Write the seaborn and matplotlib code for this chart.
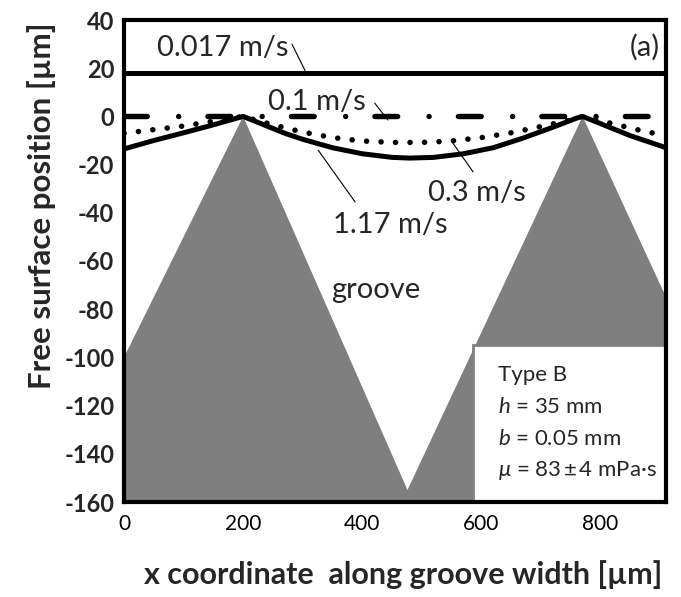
import numpy as np
import pandas as pd
import matplotlib
matplotlib.use("Agg")
import matplotlib.pyplot as plt
import seaborn as sns
from matplotlib.patches import Rectangle, Polygon

# ---------------- data ----------------
x_flat = [0, 910]
y_0017 = [18, 18]          # 0.017 m/s
y_01 = [0, 0]              # 0.1 m/s

x_03 = [0, 50, 100, 150, 200, 250, 300, 350, 400, 450, 500, 550, 600, 650, 700, 750, 770, 820, 870, 910]
y_03 = [-7, -5.5, -4, -2, 0, -3.5, -6.5, -8.8, -10.2, -10.8, -10.8, -10.2, -8.8, -6.8, -4.2, -1.5, 0, -3, -6, -8]

x_117 = [0, 50, 100, 150, 190, 200, 230, 270, 300, 350, 400, 450, 480, 520, 570, 620, 670, 720, 760, 770, 800, 850, 910]
y_117 = [-13.5, -10, -6.8, -3.5, -0.7, 0, -3, -7, -9.5, -13, -15.5, -17, -17.3, -17, -15.5, -13, -9, -4.5, -0.7, 0, -3, -8, -13]

groove_x = [0, 200, 476, 770, 910, 910, 0]
groove_y = [-100, 0, -155, 0, -75, -160, -160]

xticks = [0, 200, 400, 600, 800]
yticks = [-160, -140, -120, -100, -80, -60, -40, -20, 0, 20, 40]

box_lines = ["Type B", "$h$ = 35 mm", "$b$ = 0.05 mm", "$\\mu$ = 83\u2009±\u20094 mPa·s"]

# ---------------- style ----------------
sns.set_style("white")
plt.rcParams["font.family"] = ["Lato", "DejaVu Sans"]
plt.rcParams["axes.unicode_minus"] = False
plt.rcParams["mathtext.fontset"] = "custom"
plt.rcParams["mathtext.rm"] = "Lato"
plt.rcParams["mathtext.it"] = "Lato:italic"

fig = plt.figure(figsize=(6.81, 5.97), dpi=100)
ax = fig.add_axes([124 / 681, 95 / 597, 542 / 681, 482 / 597])

# groove (gray area)
ax.add_patch(Polygon(list(zip(groove_x, groove_y)), closed=True,
                     facecolor="#7f7f7f", edgecolor="none", zorder=1))

df_flat = pd.DataFrame({"x": x_flat, "y17": y_0017, "y1": y_01})
df03 = pd.DataFrame({"x": x_03, "y": y_03})
df117 = pd.DataFrame({"x": x_117, "y": y_117})

lw = 3.6
sns.lineplot(data=df_flat, x="x", y="y17", ax=ax, color="black", lw=lw,
             estimator=None, sort=False, zorder=3)
l1 = sns.lineplot(data=df_flat, x="x", y="y1", ax=ax, color="black", lw=3.9,
                  estimator=None, sort=False, zorder=3).lines[-1]
l1.set_dashes((4.2, 5.8, 0.01, 5.4))
l1.set_dash_capstyle("round")
l3 = sns.lineplot(data=df03, x="x", y="y", ax=ax, color="black", lw=4.0,
                  estimator=None, sort=False, zorder=3).lines[-1]
l3.set_dashes((0.01, 2.6))
l3.set_dash_capstyle("round")
sns.lineplot(data=df117, x="x", y="y", ax=ax, color="black", lw=lw,
             estimator=None, sort=False, zorder=3)

# axes limits and ticks
ax.set_xlim(0, 910)
ax.set_ylim(-160, 40)
ax.set_xticks(xticks)
ax.set_xticklabels([str(v) for v in xticks], fontsize=15)
ax.set_yticks(yticks)
ax.set_yticklabels([str(v) for v in yticks], fontsize=17, fontweight="bold")
ax.set_yticks(np.arange(-160, 41, 4), minor=True)
ax.tick_params(axis="x", direction="in", length=12, width=1, pad=9, colors="black")
ax.tick_params(axis="y", which="major", direction="in", length=6, width=2, pad=7)
ax.tick_params(axis="y", which="minor", direction="in", length=5, width=2)
for s in ax.spines.values():
    s.set_linewidth(3)
    s.set_color("black")
    s.set_zorder(5)

ax.set_xlabel("x coordinate  along groove width [µm]", fontsize=22, fontweight="bold")
ax.set_ylabel("Free surface position [µm]", fontsize=22.5, fontweight="bold")
ax.xaxis.set_label_coords(0.515, -0.151)
ax.xaxis.label.set_va("center")
ax.yaxis.set_label_coords(-0.153, 0.615)
ax.yaxis.label.set_va("center")

# annotations
fs = 21
ax.text(55, 28.4, "0.017 m/s", fontsize=fs, va="center", ha="left", zorder=6)
ax.plot([282, 304], [30, 19], color="black", lw=0.8, zorder=6)
ax.text(242, 6.0, "0.1 m/s", fontsize=fs, va="center", ha="left", zorder=6)
ax.plot([421, 443], [5.5, -1.5], color="black", lw=0.8, zorder=6)
ax.text(510, -31.8, "0.3 m/s", fontsize=fs, va="center", ha="left", zorder=6)
ax.plot([586, 552], [-23, -11], color="black", lw=0.8, zorder=6)
ax.text(351, -45, "1.17 m/s", fontsize=fs, va="center", ha="left", zorder=6)
ax.plot([388, 326], [-35.5, -14], color="black", lw=0.8, zorder=6)
ax.text(900, 28.5, "(a)", fontsize=fs, va="center", ha="right", zorder=6)
ax.text(422, -72, "groove", fontsize=fs, va="center", ha="center", zorder=6)

# info box
ax.add_patch(Rectangle((0.644, 0.0), 0.356, 0.326, transform=ax.transAxes,
                       facecolor="white", edgecolor="#808080", lw=2, zorder=4))
for i, t in enumerate(box_lines):
    ax.text(0.69, 0.263 - i * 0.066, t, transform=ax.transAxes, fontsize=16,
            va="center", ha="left", zorder=6, clip_on=False)

fig.savefig("out.png", dpi=100)
